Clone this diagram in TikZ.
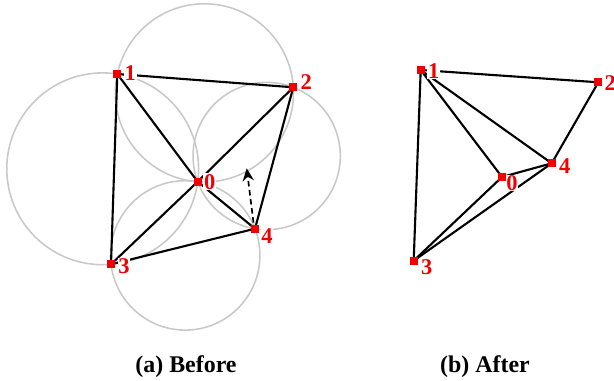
\documentclass[tikz,border=0pt]{standalone}
\usepackage{fontspec}
\setmainfont{Liberation Serif}
\usepackage{tikz}
\usetikzlibrary{arrows.meta,positioning,calc}
\usepackage{xcolor}
\definecolor{ptred}{RGB}{240,0,0}
\definecolor{circgray}{RGB}{200,200,200}

\begin{document}
\begin{tikzpicture}[
  x=0.025cm, y=-0.025cm,
  pt/.style={fill=ptred, minimum size=5.5pt, inner sep=0pt, outer sep=0pt},
  lbl/.style={text=ptred, font=\fontsize{16}{16}\selectfont\bfseries, fill=white, inner sep=0.5pt},
  edge/.style={black, line width=1.5pt},
  circ/.style={circgray, line width=1.1pt},
  caption/.style={font=\fontsize{17}{17}\selectfont\bfseries, anchor=base}
]
\useasboundingbox (0,0) rectangle (614,381);

% (a) before
\coordinate (a1) at (117.3,74);
\coordinate (a2) at (293.3,87.3);
\coordinate (a0) at (197.7,181.7);
\coordinate (a4) at (255,228.7);
\coordinate (a3) at (111,264.3);
\coordinate (tip) at (246.7,168.3);

\draw[circ] (204.4,92.9) circle (89.1);
\draw[circ] (102.7,168.8) circle (95.9);
\draw[circ] (266.7,156.0) circle (73.65);
\draw[circ] (185.2,255.4) circle (74.7);

\draw[edge] (a1) -- (a2) -- (a4) -- (a3) -- cycle;
\draw[edge] (a1) -- (a0) -- (a2);
\draw[edge] (a3) -- (a0) -- (a4);
\draw[black, line width=1.2pt, dash pattern=on 4pt off 2.5pt, -{Stealth[length=9pt,width=8pt,inset=3pt]}]
  ($(a4)+(-1.5,-6)$) -- (tip);

\node[lbl, anchor=center] (la1) at ($(a1)+(13,-1)$) {1};
\node[lbl, anchor=center] (la2) at ($(a2)+(13,-5)$) {2};
\node[lbl, anchor=center] (la0) at ($(a0)+(12,0)$) {0};
\node[lbl, anchor=center] (la4) at ($(a4)+(12,7)$) {4};
\node[lbl, anchor=center] (la3) at ($(a3)+(13,2)$) {3};
\foreach \p in {a0,a1,a2,a3,a4}
  \node[pt] at (\p) {};

% (b) after
\coordinate (b1) at (420.7,70);
\coordinate (b2) at (598.3,82.3);
\coordinate (b4) at (551.7,163.3);
\coordinate (b0) at (502,177);
\coordinate (b3) at (413.7,260.7);

\draw[edge] (b1) -- (b2) -- (b4) -- (b3) -- cycle;
\draw[edge] (b1) -- (b0) -- (b3);
\draw[edge] (b1) -- (b4) -- (b0);

\node[lbl, anchor=center] (lb1) at ($(b1)+(13,1)$) {1};
\node[lbl, anchor=center] (lb2) at ($(b2)+(12,1)$) {2};
\node[lbl, anchor=center] (lb0) at ($(b0)+(10,6)$) {0};
\node[lbl, anchor=center] (lb4) at ($(b4)+(13,3)$) {4};
\node[lbl, anchor=center] (lb3) at ($(b3)+(13,6)$) {3};
\foreach \p in {b0,b1,b2,b3,b4}
  \node[pt] at (\p) {};

\node[caption] (capa) at (186,373) {(a) Before};
\node[caption] (capb) at (485,373) {(b) After};
\end{tikzpicture}
\end{document}
